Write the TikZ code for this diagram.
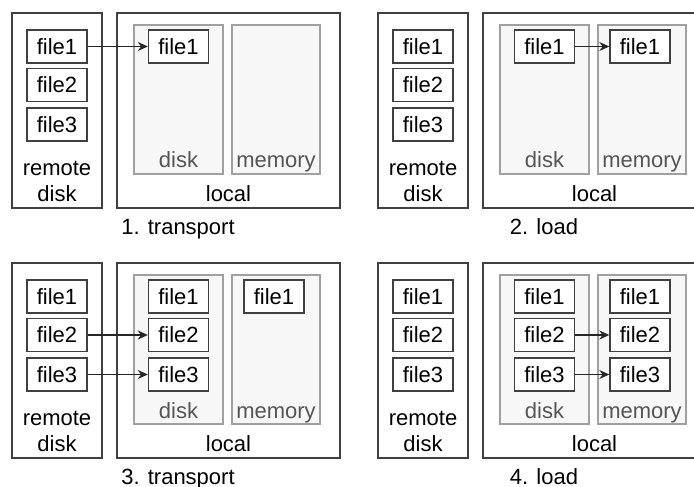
\documentclass[tikz,border=0pt]{standalone}
\usepackage{fontspec}
\setmainfont{Liberation Sans}
\usetikzlibrary{arrows.meta}

\definecolor{framegray}{HTML}{404040}
\definecolor{boxgray}{HTML}{A0A0A0}
\definecolor{boxfill}{HTML}{F7F7F7}
\definecolor{labelgray}{HTML}{555555}

\tikzset{
	outerbox/.style = {draw=framegray, line width=0.7pt, inner sep=0pt},
	innerbox/.style = {draw=boxgray, fill=boxfill, line width=0.6pt, inner sep=0pt},
	filebox/.style  = {draw=framegray, fill=white, line width=0.7pt, inner sep=0pt,
			minimum width=30pt, minimum height=16.5pt, font=\fontsize{11pt}{13pt}\selectfont},
	lbl/.style      = {inner sep=0pt, anchor=base, align=center, font=\fontsize{11pt}{13pt}\selectfont},
	copyarrow/.style = {-{Stealth[length=5pt,width=4.5pt]}, line width=0.6pt, black!85},
}

% frame of one step: remote disk, local disk and memory, caption
\newcommand{\drawpanel}[2]{%
	\node[outerbox, minimum width=45pt, minimum height=97.5pt] (#1-remote) at (57,110.5) {};
	\node[outerbox, minimum width=111.5pt, minimum height=97.5pt] (#1-local) at (228.5,110.5) {};
	\node[innerbox, minimum width=44.5pt, minimum height=74.5pt] (#1-disk) at (178.5,99.5) {};
	\node[innerbox, minimum width=44pt, minimum height=74.5pt] (#1-mem) at (276,99.5) {};
	\node[lbl] (#1-rlabel) at (57,201) {remote\\disk};
	\node[lbl, text=labelgray] (#1-dlabel) at (178.5,168) {disk};
	\node[lbl, text=labelgray] (#1-mlabel) at (276,168) {memory};
	\node[lbl] (#1-llabel) at (228.5,201) {local};
	\node[lbl] (#1-cap) at (178,234.5) {#2};
	\foreach \i/\y in {1/46.5, 2/85, 3/124.5}
		\node[filebox] (#1-r\i) at (57,\y) {file\i};
}

\begin{document}
\begin{tikzpicture}[x=0.5pt, y=-0.5pt]
	\useasboundingbox (0,0) rectangle (694,486);

	% 1. transport
	\begin{scope}
		\drawpanel{p1}{1. transport}
		\node[filebox] (p1-d1) at (178.5,46.5) {file1};
		\draw[copyarrow] (p1-r1) -- (p1-d1);
	\end{scope}

	% 2. load
	\begin{scope}[shift={(366,0)}]
		\drawpanel{p2}{2. load}
		\node[filebox] (p2-d1) at (178.5,46.5) {file1};
		\node[filebox] (p2-m1) at (274,46.5) {file1};
		\draw[copyarrow] (p2-d1) -- (p2-m1);
	\end{scope}

	% 3. transport
	\begin{scope}[shift={(0,250)}]
		\drawpanel{p3}{3. transport}
		\foreach \i/\y in {1/46.5, 2/85, 3/124.5}
			\node[filebox] (p3-d\i) at (178.5,\y) {file\i};
		\node[filebox] (p3-m1) at (274,46.5) {file1};
		\draw[copyarrow] (p3-r2) -- (p3-d2);
		\draw[copyarrow] (p3-r3) -- (p3-d3);
	\end{scope}

	% 4. load
	\begin{scope}[shift={(366,250)}]
		\drawpanel{p4}{4. load}
		\foreach \i/\y in {1/46.5, 2/85, 3/124.5} {
			\node[filebox] (p4-d\i) at (178.5,\y) {file\i};
			\node[filebox] (p4-m\i) at (274,\y) {file\i};
		}
		\draw[copyarrow] (p4-d2) -- (p4-m2);
		\draw[copyarrow] (p4-d3) -- (p4-m3);
	\end{scope}
\end{tikzpicture}
\end{document}
